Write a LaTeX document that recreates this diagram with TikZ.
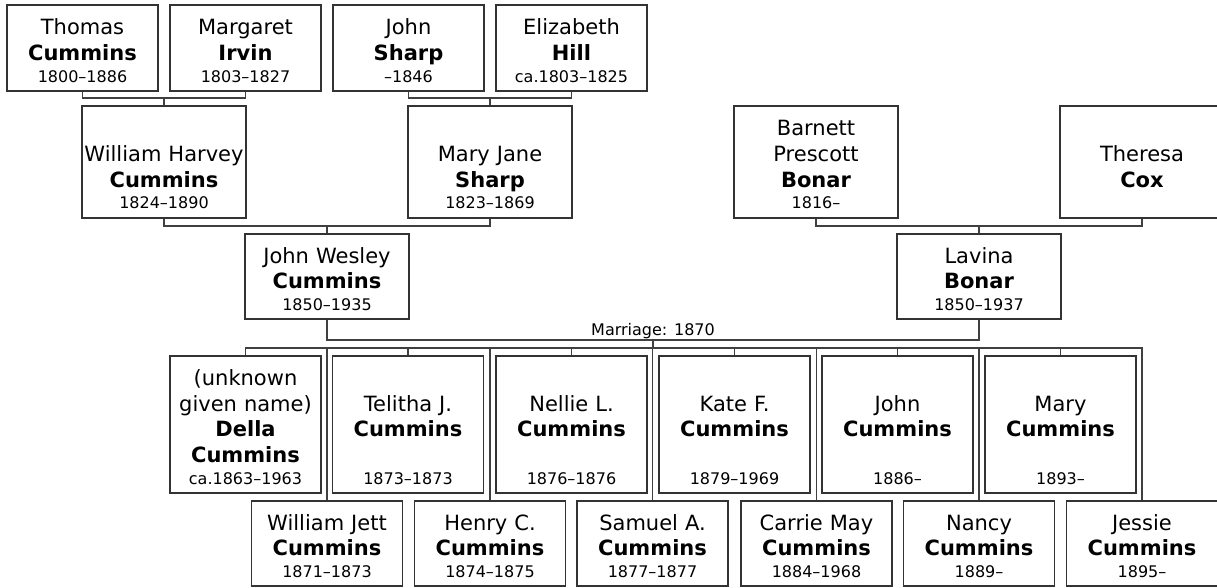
\documentclass[tikz,border=0pt]{standalone}
\usepackage{fontspec}
\setmainfont{DejaVu Sans}
\newcommand{\namefont}{\fontsize{15.75}{19.25}\selectfont}
\newcommand{\yrs}[1]{{\fontsize{12}{14}\selectfont #1}}
\newcommand{\topstrut}{\rule{0pt}{15.75pt}}

\begin{document}
\begin{tikzpicture}[x=0.75pt, y=-0.75pt,
    person/.style={draw=black!80, line width=1.1pt, fill=white, align=center,
        inner sep=0pt, font=\namefont},
    narrow/.style={person, text width=110pt, minimum width=113.25pt},
    wide/.style={person, text width=121pt, minimum width=123pt},
    link/.style={draw=black!75, line width=0.8pt}]
    \useasboundingbox (0,0) rectangle (1217,587);
    \clip (0,0) rectangle (1217,587);

    % bisnonni
    \node[narrow, minimum height=64.5pt] (thomas) at (82.5,48)
        {\topstrut Thomas\\\textbf{Cummins}\\[-3pt]\yrs{1800--1886}};
    \node[narrow, minimum height=64.5pt] (margaret) at (245.5,48)
        {\topstrut Margaret\\\textbf{Irvin}\\[-3pt]\yrs{1803--1827}};
    \node[narrow, minimum height=64.5pt] (johnS) at (408.5,48)
        {\topstrut John\\\textbf{Sharp}\\[-3pt]\yrs{--1846}};
    \node[narrow, minimum height=64.5pt] (eliz) at (571.5,48)
        {\topstrut Elizabeth\\\textbf{Hill}\\[-3pt]\yrs{ca.1803--1825}};

    % nonni
    \node[wide, minimum height=84pt] (william) at (164,162)
        {\topstrut\\William Harvey\\\textbf{Cummins}\\[-3pt]\yrs{1824--1890}};
    \node[wide, minimum height=84pt] (maryJ) at (490,162)
        {\topstrut\\Mary Jane\\\textbf{Sharp}\\[-3pt]\yrs{1823--1869}};
    \node[wide, minimum height=84pt] (barnett) at (816,162)
        {\topstrut Barnett\\Prescott\\\textbf{Bonar}\\[-3pt]\yrs{1816--}};
    \node[wide, minimum height=84pt] (theresa) at (1142,162)
        {\topstrut\\Theresa\\\textbf{Cox}\\[-3pt]\mbox{}};

    % genitori
    \node[wide, minimum height=63.75pt] (johnW) at (327,276.5)
        {\topstrut John Wesley\\\textbf{Cummins}\\[-3pt]\yrs{1850--1935}};
    \node[wide, minimum height=63.75pt] (lavina) at (979,276.5)
        {\topstrut Lavina\\\textbf{Bonar}\\[-3pt]\yrs{1850--1937}};

    % figli, fila alta
    \node[narrow, minimum height=102.75pt] (della) at (245.5,424.5)
        {\topstrut(unknown\\given name)\\\textbf{Della}\\\textbf{Cummins}\\[-3pt]\yrs{ca.1863--1963}};
    \node[narrow, minimum height=102.75pt] (telitha) at (408,424.5)
        {\topstrut\\Telitha J.\\\textbf{Cummins}\\\mbox{}\\[-3pt]\yrs{1873--1873}};
    \node[narrow, minimum height=102.75pt] (nellie) at (571.5,424.5)
        {\topstrut\\Nellie L.\\\textbf{Cummins}\\\mbox{}\\[-3pt]\yrs{1876--1876}};
    \node[narrow, minimum height=102.75pt] (kate) at (734.5,424.5)
        {\topstrut\\Kate F.\\\textbf{Cummins}\\\mbox{}\\[-3pt]\yrs{1879--1969}};
    \node[narrow, minimum height=102.75pt] (johnC) at (897.5,424.5)
        {\topstrut\\John\\\textbf{Cummins}\\\mbox{}\\[-3pt]\yrs{1886--}};
    \node[narrow, minimum height=102.75pt] (mary) at (1060.5,424.5)
        {\topstrut\\Mary\\\textbf{Cummins}\\\mbox{}\\[-3pt]\yrs{1893--}};

    % figli, fila bassa
    \node[narrow, minimum height=63.75pt] (wjett) at (327,543.5)
        {\topstrut William Jett\\\textbf{Cummins}\\[-3pt]\yrs{1871--1873}};
    \node[narrow, minimum height=63.75pt] (henry) at (490,543.5)
        {\topstrut Henry C.\\\textbf{Cummins}\\[-3pt]\yrs{1874--1875}};
    \node[narrow, minimum height=63.75pt] (samuel) at (652.5,543.5)
        {\topstrut Samuel A.\\\textbf{Cummins}\\[-3pt]\yrs{1877--1877}};
    \node[narrow, minimum height=63.75pt] (carrie) at (816.5,543.5)
        {\topstrut Carrie May\\\textbf{Cummins}\\[-3pt]\yrs{1884--1968}};
    \node[narrow, minimum height=63.75pt] (nancy) at (979,543.5)
        {\topstrut Nancy\\\textbf{Cummins}\\[-3pt]\yrs{1889--}};
    \node[narrow, minimum height=63.75pt] (jessie) at (1142,543.5)
        {\topstrut Jessie\\\textbf{Cummins}\\[-3pt]\yrs{1895--}};

    % legami
    \coordinate (cu) at (164,98);
    \coordinate (sh) at (490,98);
    \coordinate (wm) at (327,226);
    \coordinate (bo) at (979,226);
    \coordinate (wed) at (653,340);
    \coordinate (kids) at (653,348);
    \draw[link] (thomas.south) |- (cu) -| (margaret.south);
    \draw[link] (cu) -- (william.north);
    \draw[link] (johnS.south) |- (sh) -| (eliz.south);
    \draw[link] (sh) -- (maryJ.north);
    \draw[link] (william.south) |- (wm) -| (maryJ.south);
    \draw[link] (wm) -- (johnW.north);
    \draw[link] (barnett.south) |- (bo) -| (theresa.south);
    \draw[link] (bo) -- (lavina.north);
    \draw[link] (johnW.south) |- (wed) -| (lavina.south);
    \node[anchor=south, inner sep=0.5pt, font=\fontsize{12}{14}\selectfont] (wedlabel) at (wed)
        {Marriage: 1870};
    \draw[link] (wed) -- (kids);
    \draw[link] (della.north) |- (kids) -| (jessie.north);
    \foreach \kid in {telitha, nellie, kate, johnC, mary, wjett, henry, samuel, carrie, nancy}
        \draw[link] (\kid.north) -- (\kid.north |- kids);
\end{tikzpicture}
\end{document}
